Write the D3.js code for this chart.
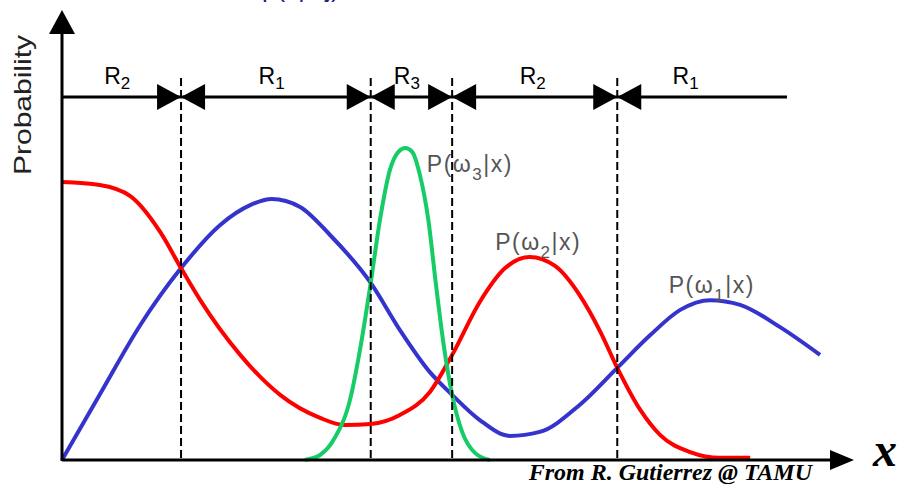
<!DOCTYPE html>
<html>
<head>
<meta charset="utf-8">
<script src="https://cdn.jsdelivr.net/npm/d3@7"></script>
<style>
	body { margin: 0; background: #fff; }
	svg { display: block; font-family: "Liberation Sans", Arial, sans-serif; }
</style>
</head>
<body>
<svg id="svg"></svg>
<script>
// courbes de probabilité a posteriori et régions de décision

// x des points (unités arbitraires 0..10)
var bleuX = [0, 0.49, 1.02, 1.55, 2.06, 2.45, 2.73, 3.10, 3.49, 4.02, 4.40, 4.79, 5.08, 5.44, 5.83, 6.22, 6.74, 7.23, 7.66, 8.05, 8.44, 8.83, 9.35, 9.87]
var bleuY = [0, 0.181, 0.375, 0.533, 0.653, 0.708, 0.725, 0.703, 0.625, 0.492, 0.361, 0.244, 0.181, 0.111, 0.067, 0.078, 0.153, 0.256, 0.347, 0.417, 0.444, 0.431, 0.369, 0.292]

var rougeX = [0, 0.49, 0.89, 1.28, 1.55, 1.80, 2.32, 2.84, 3.36, 3.68, 4.02, 4.40, 4.79, 5.08, 5.44, 5.77, 6.09, 6.42, 6.74, 7.01, 7.23, 7.53, 7.79, 8.18, 8.57, 8.96]
var rougeY = [0.772, 0.764, 0.733, 0.633, 0.533, 0.444, 0.292, 0.181, 0.117, 0.097, 0.100, 0.125, 0.189, 0.292, 0.439, 0.533, 0.564, 0.539, 0.458, 0.356, 0.256, 0.139, 0.069, 0.022, 0.006, 0.006]

var vertX = [3.16, 3.36, 3.55, 3.75, 3.88, 4.02, 4.14, 4.27, 4.38, 4.47, 4.56, 4.66, 4.77, 4.87, 4.97, 5.08, 5.21, 5.38, 5.57]
var vertY = [0, 0.014, 0.061, 0.167, 0.306, 0.492, 0.667, 0.806, 0.856, 0.867, 0.856, 0.792, 0.667, 0.486, 0.319, 0.181, 0.078, 0.019, 0]

// frontières des régions et noms
var frontieres = [1.55, 4.02, 5.08, 7.23]
var regions = [["R", "2", 0.72], ["R", "1", 2.73], ["R", "3", 4.49], ["R", "2", 6.13], ["R", "1", 8.12]]
var finRegions = 9.44

// étiquettes des courbes : omega indice, x, y
var etiquettes = [["3", 4.75, 0.80], ["2", 5.64, 0.583], ["1", 7.90, 0.464]]

Graphique =
{
	largeur: 897,
	hauteur: 484,

	draw_line(x1, y1, x2, y2, dash){
		canevas.append("line")
			.attr("x1", x1)
			.attr("y1", y1)
			.attr("x2", x2)
			.attr("y2", y2)
			.attr("stroke", "black")
			.attr("stroke-width", dash ? 2 : 3)
			.attr("stroke-dasharray", dash)
	},

	draw_triangle(pts){
		canevas.append("polygon")
			.attr("points", pts.map(function(p){return p.join(",")}).join(" "))
			.attr("fill", "black")
	},

	draw_courbe(xs, ys, couleur){
		var that = this
		var ligne = d3.line()
			.x(function(d, i){return that.x(xs[i])})
			.y(function(d){return that.y(d)})
			.curve(d3.curveMonotoneX)
		canevas.append("path")
			.attr("d", ligne(ys))
			.attr("fill", "none")
			.attr("stroke", couleur)
			.attr("stroke-width", 4)
			.attr("stroke-linejoin", "round")
	},

	init()
	{
		var that = this

		canevas = d3.select("#svg")
			.attr("width", that.largeur)
			.attr("height", that.hauteur)

		that.x = d3.scaleLinear().domain([0, 10]).range([62, 830])
		that.y = d3.scaleLinear().domain([0, 1]).range([460, 100])

		var x0 = that.x(0), y0 = that.y(0)
		var yReg = 97

		// titre coupé en haut (seul le bas est visible)
		canevas.append("text")
			.attr("x", 262).attr("y", -3)
			.attr("fill", "#1a237e")
			.style("font-size", "26px")
			.text("p(x|ωj)")

		// courbes
		that.draw_courbe(bleuX, bleuY, "#3434cc")
		that.draw_courbe(rougeX, rougeY, "#ff0000")
		that.draw_courbe(vertX, vertY, "#16cc66")

		// axes
		that.draw_line(x0, y0, 832, y0)
		that.draw_line(x0, y0 + 1, x0, 30)
		that.draw_triangle([[x0, 10], [x0 - 13, 34], [x0 + 13, 34]])
		that.draw_triangle([[854, y0], [830, y0 - 10], [830, y0 + 10]])

		// ligne des régions
		that.draw_line(x0, yReg, that.x(finRegions), yReg)

		frontieres.forEach(function(f){
			var px = that.x(f)
			that.draw_line(px, 78, px, y0, "8,4")
			that.draw_triangle([[px, yReg], [px - 24, yReg - 13], [px - 24, yReg + 13]])
			that.draw_triangle([[px, yReg], [px + 24, yReg - 13], [px + 24, yReg + 13]])
		})

		regions.forEach(function(r){
			var t = canevas.append("text")
				.attr("x", that.x(r[2])).attr("y", 84)
				.attr("text-anchor", "middle")
				.style("font-size", "23px")
			t.append("tspan").text(r[0])
			t.append("tspan").attr("dy", 5).style("font-size", "17px").text(r[1])
		})

		// étiquettes P(w|x)
		etiquettes.forEach(function(e){
			var t = canevas.append("text")
				.attr("x", that.x(e[1])).attr("y", that.y(e[2]))
				.attr("fill", "#555")
				.style("font-size", "23px")
				.style("letter-spacing", "1.5px")
			t.append("tspan").text("P(ω")
			t.append("tspan").attr("dy", 8).style("font-size", "17px").text(e[0])
			t.append("tspan").attr("dy", -8).text("|x)")
		})

		// titre axe y
		canevas.append("text")
			.attr("transform", "translate(31,105) rotate(-90)")
			.attr("text-anchor", "middle")
			.attr("textLength", 140)
			.attr("lengthAdjust", "spacingAndGlyphs")
			.style("font-size", "24px")
			.attr("fill", "#222")
			.text("Probability")

		// x
		canevas.append("text")
			.attr("x", 873).attr("y", 466)
			.style("font-family", "'Liberation Serif', serif")
			.style("font-style", "italic")
			.style("font-weight", "bold")
			.style("font-size", "48px")
			.text("x")

		// source
		canevas.append("text")
			.attr("x", 812).attr("y", 480)
			.attr("text-anchor", "end")
			.style("font-family", "'Liberation Serif', serif")
			.style("font-style", "italic")
			.style("font-weight", "bold")
			.style("font-size", "24px")
			.text("From R. Gutierrez @ TAMU")
	}
}

Graphique.init();
</script>
</body>
</html>
